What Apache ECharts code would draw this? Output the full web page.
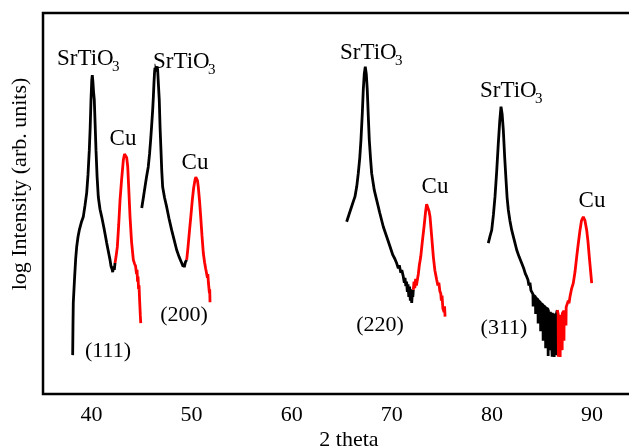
<!DOCTYPE html>
<html>
<head>
<meta charset="utf-8">
<script src="https://cdn.jsdelivr.net/npm/echarts@6/dist/echarts.min.js"></script>
<style>html,body{margin:0;padding:0;background:#fff;}#c{width:629px;height:447px;}</style>
</head>
<body>
<div id="c"></div>
<script>
// x tick labels (2 theta)
const xTicks = [40, 50, 60, 70, 80, 90];

// (111) region
const black111 = [[38.12,10.2],[38.15,18],[38.18,23.9],[38.3,30],[38.42,35.5],[38.52,38.6],[38.65,41.2],[38.78,43.0],[38.98,45],[39.18,46.5],[39.35,49.5],[39.52,52.8],[39.65,57.5],[39.78,64.0],[39.87,70],[39.95,77.2],[40.03,82.5],[40.08,83.7],[40.14,82],[40.2,79.5],[40.28,77.2],[40.36,71],[40.45,64.0],[40.56,57],[40.68,51.7],[40.85,48.5],[41.02,46.5],[41.25,43.5],[41.52,39.6],[41.7,37.2],[41.85,35.2],[41.95,33.5],[42.05,32.8],[42.12,32.0],[42.2,33.5],[42.28,32.6],[42.35,34.4]];
const red111 = [[42.35,34.4],[42.45,36],[42.58,38.6],[42.72,44.5],[42.85,50.9],[43.0,56],[43.18,61.4],[43.3,63.0],[43.42,63.5],[43.52,62],[43.62,59.6],[43.72,54],[43.85,46.5],[44.0,40],[44.18,35.2],[44.3,34.2],[44.4,33.6],[44.45,33.3],[44.5,31.5],[44.55,32.6],[44.6,29.5],[44.65,30.8],[44.7,27.5],[44.75,28.5],[44.8,25],[44.85,24.7],[44.88,20.5],[44.92,18.6]];

// (200) region
const black200 = [[45.02,48.8],[45.18,51.5],[45.34,54.3],[45.5,57],[45.67,59.6],[45.8,63],[45.91,66.7],[46.01,70.5],[46.11,74.5],[46.18,78],[46.24,81.6],[46.3,84.5],[46.34,85.6],[46.38,84.6],[46.44,85.8],[46.5,85.2],[46.56,86],[46.61,85.0],[46.69,81],[46.77,77.2],[46.85,70],[46.94,64.0],[47.02,58.5],[47.11,54.3],[47.3,51.5],[47.51,49.1],[47.75,46],[48.01,43.0],[48.25,40.5],[48.51,37.8],[48.75,36],[49.01,34.4],[49.15,33.5],[49.2,34.2],[49.27,33.3],[49.38,34.6],[49.51,35.2]];
const red200 = [[49.51,35.2],[49.64,38.5],[49.77,42.3],[49.92,46.5],[50.07,50.9],[50.2,54],[50.34,56.2],[50.42,56.9],[50.51,57.0],[50.59,56],[50.67,54.3],[50.8,50.5],[50.91,46.5],[51.04,41.5],[51.17,37.0],[51.3,34.5],[51.4,33],[51.51,32.5],[51.58,30.5],[51.62,31.5],[51.68,29.2],[51.74,29.1],[51.78,26.5],[51.81,27.5],[51.84,24.1]];

// (220) region
const black220 = [[65.49,45.2],[65.75,47.3],[65.99,49.2],[66.15,50.5],[66.32,51.8],[66.5,54.5],[66.65,57.9],[66.8,62],[66.92,66.7],[67.05,73.5],[67.15,79.8],[67.25,84],[67.35,85.9],[67.45,84],[67.55,79.8],[67.65,73],[67.75,66.7],[67.87,62],[67.99,57.9],[68.25,53.5],[68.49,50.9],[68.8,47.5],[69.15,43.9],[69.5,41.2],[69.82,38.7],[70.1,36.5],[70.3,35.5],[70.49,34.3],[70.65,33],[70.75,33.8],[70.9,31.8],[71.0,32.5],[71.15,30.8],[71.25,29.2],[71.32,30.5],[71.4,28.3],[71.48,29.5],[71.55,26.8],[71.62,28.8],[71.7,25.5],[71.78,28.2],[71.85,24.5],[71.92,27.5],[71.99,23.9],[72.05,26.5],[72.1,25.5],[72.15,27.3]];
const red220 = [[72.15,27.3],[72.22,29.5],[72.3,27.8],[72.38,30.2],[72.46,28.5],[72.55,29.9],[72.65,31.5],[72.75,33.8],[72.89,36.0],[73.05,40],[73.22,43.9],[73.38,48],[73.48,49.8],[73.55,50.1],[73.62,49.5],[73.72,48],[73.82,46.5],[73.98,41.5],[74.15,36.0],[74.3,32.5],[74.49,29.9],[74.6,28.5],[74.7,29.2],[74.8,27.0],[74.89,26.4],[74.95,24.5],[75.02,25.8],[75.1,22.5],[75.15,22.9],[75.22,21.5],[75.27,23.0],[75.32,20.3]];

// (311) region
const black311 = [[79.64,39.6],[79.82,41.5],[79.98,43.0],[80.15,47],[80.31,51.8],[80.48,58.5],[80.64,65.8],[80.78,71.5],[80.91,75.4],[81.02,73.5],[81.14,69.3],[81.28,62],[81.41,56.2],[81.52,51.5],[81.64,48.3],[81.8,45.5],[81.98,43.0],[82.22,40.5],[82.48,37.8],[82.72,36],[82.98,34.3],[83.2,32.8],[83.35,31.5],[83.48,30.8],[83.6,30.0],[83.7,28.5],[83.8,29.2],[83.9,27.2],[83.98,27.3],[84.1,26.2],[84.12,23.0],[84.14,26.0],[84.35,25.5],[84.37,21.0],[84.39,25.2],[84.6,24.8],[84.62,18.5],[84.64,24.5],[84.85,24.0],[84.87,16.5],[84.89,23.8],[85.1,23.4],[85.12,14.0],[85.14,23.2],[85.35,22.8],[85.37,12.0],[85.39,22.6],[85.6,22.3],[85.62,10.0],[85.64,22.1],[85.8,21.8],[85.82,11.5],[85.84,21.6],[86.0,21.4],[86.02,9.8],[86.04,21.3],[86.2,21.2],[86.22,9.7],[86.24,21.1],[86.4,21.0],[86.42,10.2],[86.44,21.0],[86.53,22.0]];
const red311 = [[86.53,22.0],[86.62,21.0],[86.64,9.8],[86.66,20.8],[86.8,20.8],[86.82,9.7],[86.84,20.8],[87.0,21.0],[87.02,11.5],[87.04,21.2],[87.18,21.8],[87.2,14.0],[87.22,22.0],[87.38,22.5],[87.4,18.0],[87.42,22.8],[87.55,23.0],[87.63,24.5],[87.7,23.8],[87.8,25.5],[87.95,27.5],[88.13,29.1],[88.3,32],[88.47,36.0],[88.63,39.5],[88.8,43.0],[88.95,45.5],[89.13,46.5],[89.3,45.5],[89.47,43.0],[89.6,40],[89.73,36.0],[89.85,32.5],[89.97,29.1]];

const FONT = '"Liberation Serif","Times New Roman",serif';
const chart = echarts.init(document.getElementById('c'), null, {renderer: 'canvas'});

function line(data, color) {
  return {type: 'line', data: data, showSymbol: false, symbol: 'none', animation: false,
    lineStyle: {color: color, width: 2.8}, itemStyle: {color: color}};
}

function txt(s, x, y, size, align) {
  return {type: 'text', x: x, y: y, silent: true, z: 10,
    style: {text: s, fontFamily: FONT, fontSize: size, fill: '#000', align: align || 'left', verticalAlign: 'middle'}};
}

const graphics = [
  txt('SrTiO', 57, 59, 23), txt('3', 112, 67, 15),
  txt('SrTiO', 153, 62, 23), txt('3', 208, 70, 15),
  txt('SrTiO', 340, 53, 23), txt('3', 395, 61, 15),
  txt('SrTiO', 480, 91, 23), txt('3', 535, 99, 15),
  txt('Cu', 123, 139, 23, 'center'),
  txt('Cu', 195, 163, 23, 'center'),
  txt('Cu', 435, 187, 23, 'center'),
  txt('Cu', 592, 201, 23, 'center'),
  txt('(111)', 108, 351, 22, 'center'),
  txt('(200)', 184, 315, 22, 'center'),
  txt('(220)', 380, 325, 22, 'center'),
  txt('(311)', 504, 328, 22, 'center'),
  txt('2 theta', 349, 440, 22, 'center'),
  {type: 'text', x: 20, y: 184, rotation: Math.PI / 2, silent: true,
    style: {text: 'log Intensity (arb. units)', fontFamily: FONT, fontSize: 22, fill: '#000', align: 'center', verticalAlign: 'middle'}}
];

chart.setOption({
  backgroundColor: '#fff',
  animation: false,
  grid: {left: 43, top: 13, right: -10, bottom: 53, outerBoundsMode: 'none', containLabel: false,
    show: true, borderColor: '#000', borderWidth: 2.5, backgroundColor: 'transparent'},
  xAxis: {type: 'value', min: 35.155, max: 94.695,
    axisLine: {show: false}, axisTick: {show: false}, splitLine: {show: false},
    axisLabel: {customValues: xTicks, margin: 10, color: '#000', fontFamily: FONT, fontSize: 22}},
  yAxis: {type: 'value', min: 0, max: 100, axisLine: {show: false}, axisTick: {show: false}, splitLine: {show: false}, axisLabel: {show: false}},
  series: [
    line(black111, '#000'), line(red111, '#f00'),
    line(black200, '#000'), line(red200, '#f00'),
    line(black220, '#000'), line(red220, '#f00'),
    line(black311, '#000'), line(red311, '#f00')
  ],
  graphic: graphics
});
</script>
</body>
</html>
